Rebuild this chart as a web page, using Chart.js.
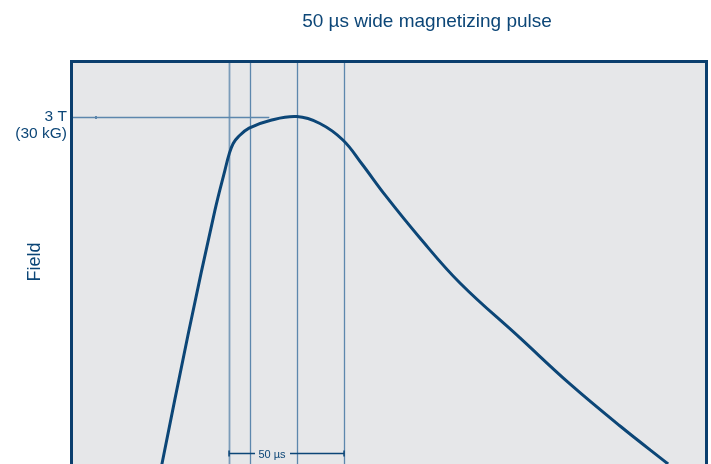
<!DOCTYPE html>
<html>
<head>
<meta charset="utf-8">
<script src="https://cdn.jsdelivr.net/npm/chart.js@4/dist/chart.umd.min.js"></script>
<style>
  html, body { margin: 0; padding: 0; background: #fff; overflow: hidden; }
  canvas { display: block; }
</style>
</head>
<body>
<canvas id="pulseChart" width="711" height="520"></canvas>
<script>
// time in µs, field in tesla
const pulseTime  = [39.3, 50.65, 62.4, 66.7, 68.6, 70.3, 72.4, 77.2, 86.3, 98, 108, 118, 126.3, 136.3, 151.5, 168.9, 195, 216.7, 238.5, 259.4];
const pulseField = [0.28, 1.291, 2.27, 2.58, 2.71, 2.79, 2.84, 2.91, 2.97, 3.00, 2.946, 2.817, 2.629, 2.387, 2.05, 1.698, 1.268, 0.908, 0.579, 0.282];
const markerTimes = [68.5, 77.8, 98, 118.5];
const peakLabel = ['3 T', '(30 kG)'];
const peakField = 3;
const widthLabel = '50 µs';
const widthStart = 68.5, widthEnd = 118.5, widthField = 0.37;

const blue = '#0c4677';
const lineBlue = '#5d87ad';

const overlay = {
    id: 'overlay',
    beforeDatasetsDraw(chart) {
        const { ctx, chartArea: a, scales: { x, y } } = chart;
        ctx.save();
        ctx.fillStyle = '#e6e7e9';
        ctx.fillRect(a.left, a.top, a.right - a.left, a.bottom - a.top);
        // vertical markers
        markerTimes.forEach((t, i) => {
            const px = Math.round(x.getPixelForValue(t)) + 0.5;
            ctx.strokeStyle = i === 0 ? '#7b9cba' : lineBlue;
            ctx.lineWidth = i === 0 ? 1.8 : 1.3;
            ctx.beginPath();
            ctx.moveTo(px, a.top);
            ctx.lineTo(px, a.bottom);
            ctx.stroke();
        });
        // 3 T line
        ctx.strokeStyle = lineBlue;
        ctx.lineWidth = 1.3;
        const py = Math.round(y.getPixelForValue(peakField)) + 0.5;
        ctx.beginPath();
        ctx.moveTo(a.left, py);
        ctx.lineTo(x.getPixelForValue(86), py);
        ctx.stroke();
        ctx.fillStyle = lineBlue;
        ctx.fillRect(95, py - 1.5, 2, 3);
        // 50 µs width arrow
        const wy = Math.round(y.getPixelForValue(widthField)) + 0.5;
        const x1 = x.getPixelForValue(widthStart), x2 = x.getPixelForValue(widthEnd);
        const tx = 272;
        ctx.strokeStyle = blue;
        ctx.lineWidth = 1.5;
        ctx.beginPath();
        ctx.moveTo(x1, wy); ctx.lineTo(tx - 17, wy);
        ctx.moveTo(tx + 18, wy); ctx.lineTo(x2, wy);
        ctx.moveTo(x1, wy - 3); ctx.lineTo(x1, wy + 3);
        ctx.moveTo(x2, wy - 3); ctx.lineTo(x2, wy + 3);
        ctx.stroke();
        ctx.fillStyle = blue;
        ctx.font = '11px "Liberation Sans", Arial, sans-serif';
        ctx.textAlign = 'center';
        ctx.textBaseline = 'middle';
        ctx.fillText(widthLabel, tx, wy + 1);
        ctx.restore();
    },
    afterDraw(chart) {
        const { ctx, chartArea: a, scales: { y } } = chart;
        ctx.save();
        ctx.strokeStyle = '#0b3f6e';
        ctx.lineWidth = 3;
        ctx.strokeRect(a.left, a.top, a.right - a.left, a.bottom - a.top + 40);
        ctx.fillStyle = blue;
        ctx.font = '15.5px "Liberation Sans", Arial, sans-serif';
        ctx.textAlign = 'right';
        ctx.textBaseline = 'middle';
        const py = y.getPixelForValue(peakField);
        ctx.fillText(peakLabel[0], 67, py + 0.5);
        ctx.fillText(peakLabel[1], 67, py + 17.5);
        // title and axis label
        ctx.textAlign = 'center';
        ctx.font = '19px "Liberation Sans Narrow", "Liberation Sans", Arial, sans-serif';
        ctx.fillText('50 µs wide magnetizing pulse', 427, 22);
        ctx.translate(35, 262);
        ctx.rotate(-Math.PI / 2);
        ctx.font = '18px "Liberation Sans Narrow", "Liberation Sans", Arial, sans-serif';
        ctx.fillText('Field', 0, 0);
        ctx.restore();
    }
};

const chart = new Chart(document.getElementById('pulseChart'), {
    type: 'line',
    data: {
        datasets: [{
            data: pulseTime.map((t, i) => ({ x: t, y: pulseField[i] })),
            borderColor: blue,
            borderWidth: 3,
            pointRadius: 0,
            tension: 0.4,
            fill: false
        }]
    },
    options: {
        responsive: false,
        animation: false,
        layout: { padding: { left: 71.5, right: 4.5, top: 61.5, bottom: 20 } },
        plugins: { legend: { display: false }, tooltip: { enabled: false } },
        scales: {
            x: { type: 'linear', min: 0, max: (706.5 - 71.5) / 2.3, display: false },
            y: { min: 0, max: (500 - 61.5) / 127.8, display: false }
        }
    },
    plugins: [overlay]
});
</script>
</body>
</html>
